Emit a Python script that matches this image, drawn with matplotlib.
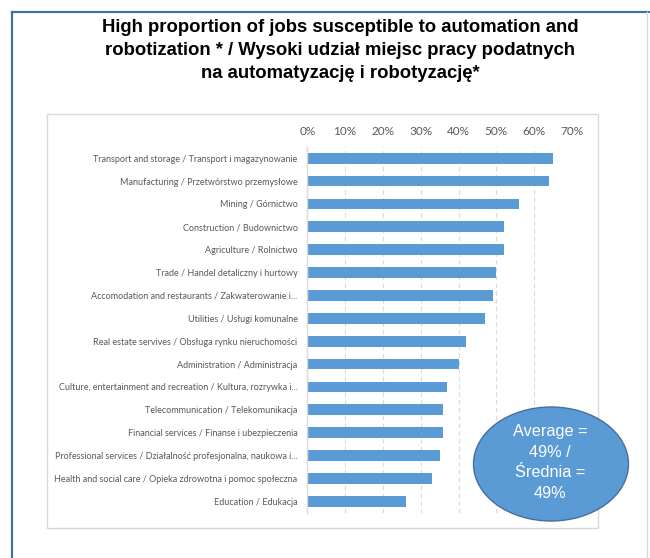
import matplotlib
matplotlib.use("Agg")
import matplotlib.pyplot as plt
from matplotlib.patches import Ellipse, Rectangle
from matplotlib.lines import Line2D
from matplotlib.ticker import FuncFormatter

categories = [
    "Transport and storage / Transport i magazynowanie",
    "Manufacturing / Przetwórstwo przemysłowe",
    "Mining / Górnictwo",
    "Construction / Budownictwo",
    "Agriculture / Rolnictwo",
    "Trade / Handel detaliczny i hurtowy",
    "Accomodation and restaurants / Zakwaterowanie i...",
    "Utilities / Usługi komunalne",
    "Real estate servives / Obsługa rynku nieruchomości",
    "Administration / Administracja",
    "Culture, entertainment and recreation / Kultura, rozrywka i...",
    "Telecommunication / Telekomunikacja",
    "Financial services / Finanse i ubezpieczenia",
    "Professional services / Działalność profesjonalna, naukowa i...",
    "Health and social care / Opieka zdrowotna i pomoc społeczna",
    "Education / Edukacja",
]
values = [0.65, 0.64, 0.56, 0.52, 0.52, 0.50, 0.49, 0.47,
          0.42, 0.40, 0.37, 0.36, 0.36, 0.35, 0.33, 0.26]
xticks = [0, 0.1, 0.2, 0.3, 0.4, 0.5, 0.6, 0.7]

title = ("High proportion of jobs susceptible to automation and\n"
         "robotization * / Wysoki udział miejsc pracy podatnych\n"
         "na automatyzację i robotyzację*")
bubble_text = "Average =\n49% /\nŚrednia =\n49%"

W, H = 650, 558
fig = plt.figure(figsize=(6.5, 5.58), dpi=100)
fig.patch.set_facecolor("white")

def fx(px):
    return px / W

def fy(py):
    return 1 - py / H

# outer frame lines
fig.add_artist(Line2D([fx(11.5), fx(11.5)], [fy(11.5), 0], color="#41719C", lw=1.6,
                      transform=fig.transFigure))
fig.add_artist(Line2D([fx(11.5), 1], [fy(11.5), fy(11.5)], color="#41719C", lw=1.6,
                      transform=fig.transFigure))
fig.add_artist(Line2D([fx(647), fx(647)], [fy(12), 0], color="#D9D9D9", lw=1.0,
                      transform=fig.transFigure))

# inner chart frame
fig.add_artist(Rectangle((fx(46.5), fy(528)), fx(597.5) - fx(46.5), fy(113.5) - fy(528),
                         transform=fig.transFigure, fill=False, edgecolor="#D9D9D9", lw=1.0))

fig.text(fx(340), fy(50.5), title, ha="center", va="center", fontsize=13.3, fontweight="bold",
         family="Liberation Sans", linespacing=1.48, color="black")

ax = fig.add_axes([fx(307.3), fy(512.7), fx(572) - fx(307.3), fy(146.7) - fy(512.7)])
y = list(range(len(categories)))
ax.barh(y, values, height=0.47, color="#5B9BD5", zorder=3)
ax.set_ylim(len(categories) - 0.5, -0.5)
ax.set_xlim(0, 0.7)
ax.set_yticks(y)
ax.set_yticklabels(categories, family="Lato", fontsize=6.45, color="#595959")
ax.set_xticks(xticks)
ax.xaxis.set_major_formatter(FuncFormatter(lambda v, p: f"{v*100:.0f}%"))
ax.xaxis.tick_top()
ax.tick_params(axis="x", length=0, pad=7, labelsize=8.5, labelcolor="#595959")
for lbl in ax.get_xticklabels():
    lbl.set_family("Lato")
ax.tick_params(axis="y", length=0, pad=7)
ax.grid(axis="x", color="#D9D9D9", linestyle=(0, (4, 3)), lw=0.8, zorder=0)
for s in ["top", "right", "bottom"]:
    ax.spines[s].set_visible(False)
ax.spines["left"].set_color("#D9D9D9")
ax.spines["left"].set_linewidth(1.0)
ax.spines["left"].set_zorder(4)

# average bubble
fig.add_artist(Ellipse((fx(551), fy(464)), fx(155), 114 / H, transform=fig.transFigure,
                       facecolor="#5B9BD5", edgecolor="#41719C", lw=1.0, zorder=5))
fig.text(fx(550), fy(462.5), bubble_text, ha="center", va="center", fontsize=11.7,
         family="Liberation Sans", color="white", linespacing=1.49, zorder=6)

fig.savefig("out.png", dpi=100)
